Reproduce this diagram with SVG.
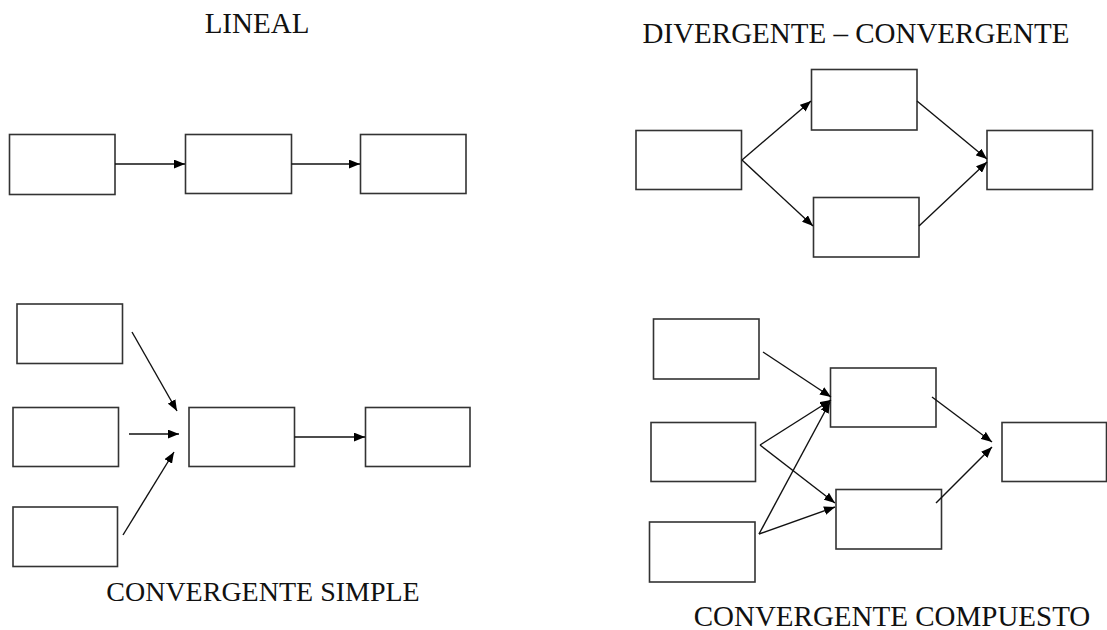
<svg xmlns="http://www.w3.org/2000/svg" width="1107" height="630" viewBox="0 0 1107 630">
<defs>
<style>
.box{fill:#fff;stroke:#333;stroke-width:1.6}
.c{fill:none;stroke:#111;stroke-width:1.4}
.t{font-family:"Liberation Serif",serif;fill:#111;text-anchor:middle}
</style>
<marker id="ah" viewBox="0 0 10 8" refX="10" refY="4" markerWidth="11" markerHeight="9" markerUnits="userSpaceOnUse" orient="auto">
<path d="M0,0 L10,4 L0,8 Z" fill="#000"/>
</marker>
</defs>
<rect width="1107" height="630" fill="#fff"/>
<text class="t" x="257" y="33" font-size="29">LINEAL</text>
<text class="t" x="856" y="43" font-size="29">DIVERGENTE – CONVERGENTE</text>
<text class="t" x="263" y="601" font-size="28">CONVERGENTE SIMPLE</text>
<text class="t" x="892" y="626" font-size="29">CONVERGENTE COMPUESTO</text>

<g id="l1"><rect class="box" x="9.5" y="134.5" width="105.5" height="60"/></g>
<g id="l2"><rect class="box" x="185.5" y="134.5" width="106" height="59"/></g>
<g id="l3"><rect class="box" x="360.5" y="134.5" width="105.5" height="59"/></g>

<g id="d1"><rect class="box" x="636" y="130.5" width="105.5" height="59"/></g>
<g id="d2"><rect class="box" x="811.5" y="69.5" width="105.5" height="60.5"/></g>
<g id="d3"><rect class="box" x="813.5" y="197.5" width="105.5" height="59.5"/></g>
<g id="d4"><rect class="box" x="987" y="130.5" width="105.5" height="59"/></g>

<g id="s1"><rect class="box" x="17" y="304" width="105.5" height="59.5"/></g>
<g id="s2"><rect class="box" x="13" y="407.5" width="105.5" height="59"/></g>
<g id="s3"><rect class="box" x="13" y="507" width="104.5" height="59.5"/></g>
<g id="s4"><rect class="box" x="189" y="407.5" width="105.5" height="59"/></g>
<g id="s5"><rect class="box" x="365.5" y="407.5" width="104.5" height="59"/></g>

<g id="c1"><rect class="box" x="653.5" y="319" width="105.5" height="60"/></g>
<g id="c2"><rect class="box" x="651" y="422.5" width="104.5" height="59"/></g>
<g id="c3"><rect class="box" x="649.5" y="522" width="105.5" height="60"/></g>
<g id="c4"><rect class="box" x="830.5" y="368" width="105.5" height="59"/></g>
<g id="c5"><rect class="box" x="836" y="489.5" width="105.5" height="59.5"/></g>
<g id="c6"><rect class="box" x="1002" y="422.5" width="104.5" height="59"/></g>

<g id="connectors">
<line class="c" x1="115" y1="164" x2="185" y2="164" stroke-width="2.4" marker-end="url(#ah)"/>
<line class="c" x1="291.5" y1="164" x2="360" y2="164" marker-end="url(#ah)"/>

<line class="c" x1="742" y1="160" x2="811" y2="101" stroke-width="1.8" marker-end="url(#ah)"/>
<line class="c" x1="742" y1="160" x2="813" y2="226" stroke-width="1.8" marker-end="url(#ah)"/>
<line class="c" x1="917" y1="101" x2="987" y2="159" stroke-width="1.8" marker-end="url(#ah)"/>
<line class="c" x1="919" y1="226" x2="987" y2="162" stroke-width="1.8" marker-end="url(#ah)"/>

<line class="c" x1="132" y1="332" x2="177" y2="411" marker-end="url(#ah)"/>
<line class="c" x1="129" y1="434" x2="179" y2="434" marker-end="url(#ah)"/>
<line class="c" x1="123" y1="535" x2="174" y2="452" marker-end="url(#ah)"/>
<line class="c" x1="294.5" y1="437" x2="365" y2="437" marker-end="url(#ah)"/>

<line class="c" x1="763" y1="352" x2="831" y2="397" marker-end="url(#ah)"/>
<line class="c" x1="760" y1="445" x2="831" y2="400" marker-end="url(#ah)"/>
<line class="c" x1="760" y1="445" x2="835" y2="503" marker-end="url(#ah)"/>
<line class="c" x1="759" y1="534" x2="830" y2="402" marker-end="url(#ah)"/>
<line class="c" x1="759" y1="534" x2="835" y2="507" marker-end="url(#ah)"/>
<line class="c" x1="932" y1="397" x2="992" y2="442" marker-end="url(#ah)"/>
<line class="c" x1="936" y1="503" x2="992" y2="447" marker-end="url(#ah)"/>
</g>
</svg>
